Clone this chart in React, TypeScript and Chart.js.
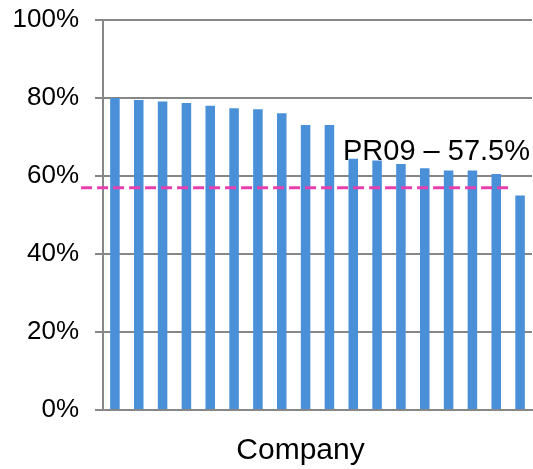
import React, { useEffect, useRef } from "react";
import { Chart, registerables } from "chart.js";

Chart.register(...registerables);

const categories: string[] = [
  "C1", "C2", "C3", "C4", "C5", "C6", "C7", "C8", "C9",
  "C10", "C11", "C12", "C13", "C14", "C15", "C16", "C17", "C18",
];
const values: number[] = [
  80.0, 79.5, 79.1, 78.7, 78.0, 77.4, 77.1, 76.1, 73.1,
  73.1, 64.4, 64.0, 63.1, 62.0, 61.4, 61.4, 60.5, 55.0,
];
const yTicks: number[] = [0, 20, 40, 60, 80, 100];
const refValue = 57;
const refLabel = "PR09 \u2013 57.5%";
const xTitle = "Company";

const FONT = "'Liberation Sans', Arial, sans-serif";
const BAR = "#4a90d9";
const GRID = "#878787";
const PINK = "#e83fae";

const overlay = {
  id: "overlay",
  afterDatasetsDraw(chart: any) {
    const { ctx, chartArea, scales } = chart;
    const x = scales.x;
    const y = scales.y;
    const yy = y.getPixelForValue(refValue);
    const step = x.getPixelForValue(1) - x.getPixelForValue(0);
    const x0 = chartArea.left - step * 0.92;
    const x1 = x.getPixelForValue(categories.length - 1) - step * 0.5;
    ctx.save();
    ctx.strokeStyle = PINK;
    ctx.lineWidth = 3;
    ctx.setLineDash([11, 5]);
    ctx.beginPath();
    ctx.moveTo(x0, yy);
    ctx.lineTo(x1, yy);
    ctx.stroke();
    ctx.setLineDash([]);
    ctx.fillStyle = "#000";
    ctx.font = `29px ${FONT}`;
    ctx.textAlign = "right";
    ctx.textBaseline = "alphabetic";
    ctx.fillText(refLabel, chartArea.right - 2, yy - 28);
    ctx.font = `30px ${FONT}`;
    ctx.textAlign = "center";
    const cx = (chartArea.left + chartArea.right) / 2 - 17;
    ctx.fillText(xTitle, cx, chartArea.bottom + 49);
    ctx.restore();
  },
};

export default function App() {
  const ref = useRef<HTMLCanvasElement | null>(null);
  useEffect(() => {
    document.body.style.margin = "0";
    const canvas = ref.current;
    if (!canvas) return;
    const chart = new Chart(canvas, {
      type: "bar",
      data: {
        labels: categories,
        datasets: [
          {
            data: values,
            backgroundColor: BAR,
            borderWidth: 0,
            barPercentage: 0.4,
            categoryPercentage: 1,
          },
        ],
      },
      options: {
        responsive: false,
        animation: false,
        layout: { padding: { left: 0, right: 1, top: 20, bottom: 59 } },
        plugins: {
          legend: { display: false },
          tooltip: { enabled: false },
        },
        scales: {
          x: {
            grid: { display: false },
            ticks: { display: false },
            border: { display: true, color: GRID, width: 2 },
            afterFit: (scale: any) => {
              scale.height = 0;
              scale.paddingLeft = 0;
              scale.paddingRight = 0;
            },
          },
          y: {
            min: 0,
            max: 100,
            afterBuildTicks: (scale: any) => {
              scale.ticks = yTicks.map((v) => ({ value: v }));
            },
            afterFit: (scale: any) => {
              scale.width = 103;
              scale.paddingTop = 0;
              scale.paddingBottom = 0;
            },
            ticks: {
              padding: 16,
              color: "#000",
              font: { family: FONT, size: 26 },
              callback: (v: any) => `${v}%`,
            },
            grid: {
              color: GRID,
              lineWidth: 2,
              tickLength: 8,
              drawTicks: true,
            },
            border: { display: true, color: GRID, width: 2 },
          },
        },
      },
      plugins: [overlay],
    });
    return () => chart.destroy();
  }, []);
  return (
    <div style={{ width: 533, height: 469 }}>
      <canvas ref={ref} width={533} height={469} />
    </div>
  );
}
